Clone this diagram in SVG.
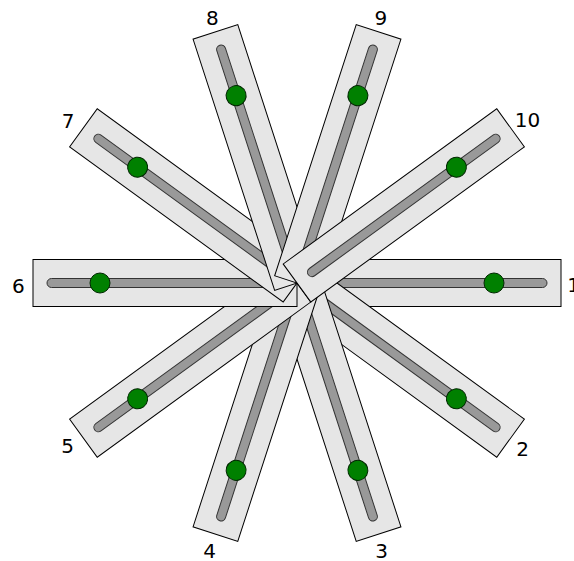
<svg xmlns="http://www.w3.org/2000/svg" width="574" height="561" viewBox="0 0 574 561">
<style>
.body{fill:#e6e6e6;stroke:#000;stroke-width:1}
.groove{fill:#999;stroke:#333;stroke-width:1}
.knob{fill:#008000;stroke:#002800;stroke-width:1}
.lbl{font-family:"DejaVu Sans",Verdana,sans-serif;font-size:20px;fill:#000;text-anchor:middle}
</style>
<defs>
<g id="slider">
<rect class="body" x="0" y="-23.5" width="264" height="47"/>
<rect class="groove" x="14" y="-4.5" width="236" height="9" rx="4.5"/>
<circle class="knob" cx="197" cy="0" r="10"/>
</g>
</defs>
<g id="connectors"/>
<g id="s1"><use href="#slider" transform="translate(297,283) rotate(0)"/><text class="lbl" x="573.5" y="292">1</text></g>
<g id="s2"><use href="#slider" transform="translate(297,283) rotate(36)"/><text class="lbl" x="522.5" y="456">2</text></g>
<g id="s3"><use href="#slider" transform="translate(297,283) rotate(72)"/><text class="lbl" x="381.7" y="558">3</text></g>
<g id="s4"><use href="#slider" transform="translate(297,283) rotate(108)"/><text class="lbl" x="209.7" y="558">4</text></g>
<g id="s5"><use href="#slider" transform="translate(297,283) rotate(144)"/><text class="lbl" x="67.5" y="453">5</text></g>
<g id="s6"><use href="#slider" transform="translate(297,283) rotate(180)"/><text class="lbl" x="18.3" y="292.5">6</text></g>
<g id="s7"><use href="#slider" transform="translate(297,283) rotate(216)"/><text class="lbl" x="68" y="128.3">7</text></g>
<g id="s8"><use href="#slider" transform="translate(297,283) rotate(252)"/><text class="lbl" x="212.3" y="24.5">8</text></g>
<g id="s9"><use href="#slider" transform="translate(297,283) rotate(288)"/><text class="lbl" x="380.8" y="24.5">9</text></g>
<g id="s10"><use href="#slider" transform="translate(297,283) rotate(324)"/><text class="lbl" x="527.5" y="126.5">10</text></g>
</svg>
